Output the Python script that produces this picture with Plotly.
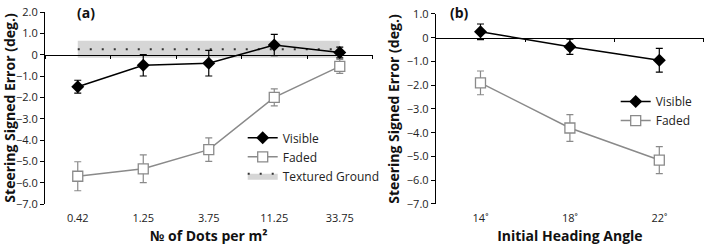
import plotly.graph_objects as go

# ---- Panel (a) data ----
cats_a = ["0.42", "1.25", "3.75", "11.25", "33.75"]
visible_a = [-1.5, -0.5, -0.4, 0.45, 0.1]
visible_a_err = [0.3, 0.5, 0.6, 0.5, 0.25]
faded_a = [-5.7, -5.35, -4.45, -2.0, -0.55]
faded_a_err = [0.68, 0.65, 0.55, 0.4, 0.33]
textured_mean = 0.25
textured_se = 0.4

# ---- Panel (b) data ----
cats_b = ["14˚", "18˚", "22˚"]
visible_b = [0.25, -0.38, -0.95]
visible_b_err = [0.33, 0.32, 0.5]
faded_b = [-1.9, -3.8, -5.15]
faded_b_err = [0.5, 0.56, 0.57]

ytick_a = [2, 1, 0, -1, -2, -3, -4, -5, -6, -7]
ytick_b = [1, 0, -1, -2, -3, -4, -5, -6, -7]


def fmt(v):
    return "0" if v == 0 else ("%.1f" % v).replace("-", "\u2212")


FONT = "Open Sans"
BLACK = "#000000"
GRAY = "#8a8a8a"
BAND = "#d6d6d6"

fig = go.Figure()

# Textured ground band (a)
band_x = [cats_a[0], cats_a[-1]]
fig.add_trace(go.Scatter(x=band_x, y=[textured_mean - textured_se] * 2, mode="lines",
                         line=dict(width=0, color=BAND), showlegend=False, hoverinfo="skip",
                         xaxis="x", yaxis="y"))
fig.add_trace(go.Scatter(x=band_x, y=[textured_mean + textured_se] * 2, mode="lines", fill="tonexty",
                         fillcolor=BAND, line=dict(width=0, color=BAND), showlegend=False,
                         hoverinfo="skip", xaxis="x", yaxis="y"))
fig.add_trace(go.Scatter(x=band_x, y=[textured_mean] * 2, mode="lines", fill="toself",
                         fillcolor=BAND, line=dict(width=2, color="#333333", dash="2px,10px"),
                         name="Textured Ground", legend="legend", legendrank=3,
                         xaxis="x", yaxis="y"))

# dummy trace for zero-line axis (a)
fig.add_trace(go.Scatter(x=cats_a, y=visible_a, mode="markers", opacity=0, showlegend=False,
                         hoverinfo="skip", xaxis="x3", yaxis="y"))
# dummy trace for zero-line axis (b)
fig.add_trace(go.Scatter(x=cats_b, y=visible_b, mode="markers", opacity=0, showlegend=False,
                         hoverinfo="skip", xaxis="x4", yaxis="y2"))

# Panel (a) series
fig.add_trace(go.Scatter(x=cats_a, y=faded_a, mode="lines+markers", name="Faded",
                         line=dict(color=GRAY, width=1.5),
                         marker=dict(symbol="square", size=10, color="white", line=dict(color=GRAY, width=1.3)),
                         error_y=dict(type="data", array=faded_a_err, color=GRAY, thickness=1.2, width=3.5),
                         legend="legend", legendrank=2, xaxis="x", yaxis="y"))
fig.add_trace(go.Scatter(x=cats_a, y=visible_a, mode="lines+markers", name="Visible",
                         line=dict(color=BLACK, width=1.5),
                         marker=dict(symbol="diamond", size=10, color=BLACK),
                         error_y=dict(type="data", array=visible_a_err, color=BLACK, thickness=1.2, width=3.5),
                         legend="legend", legendrank=1, xaxis="x", yaxis="y"))

# Panel (b) series
fig.add_trace(go.Scatter(x=cats_b, y=faded_b, mode="lines+markers", name="Faded",
                         line=dict(color=GRAY, width=1.5),
                         marker=dict(symbol="square", size=10, color="white", line=dict(color=GRAY, width=1.3)),
                         error_y=dict(type="data", array=faded_b_err, color=GRAY, thickness=1.2, width=3.5),
                         legend="legend2", legendrank=2, xaxis="x2", yaxis="y2"))
fig.add_trace(go.Scatter(x=cats_b, y=visible_b, mode="lines+markers", name="Visible",
                         line=dict(color=BLACK, width=1.5),
                         marker=dict(symbol="diamond", size=10, color=BLACK),
                         error_y=dict(type="data", array=visible_b_err, color=BLACK, thickness=1.2, width=3.5),
                         legend="legend2", legendrank=1, xaxis="x2", yaxis="y2"))

ya_range = [-7, 2]
yb_range = [-7, 1]
yb_top = 0.9896

tickfont = dict(family=FONT, size=11, color="#222222")
titlefont = dict(family=FONT, size=14, color="#111111", weight="bold")

fig.update_layout(
    width=707, height=248,
    margin=dict(l=45, r=3, t=12, b=44),
    paper_bgcolor="white", plot_bgcolor="white",
    font=dict(family=FONT, color="#111111"),
    xaxis=dict(domain=[0, 0.497], type="category", categoryarray=cats_a, range=[-0.5, 4.5],
               showline=False, showgrid=False, zeroline=False, ticks="", tickfont=tickfont,
               ticklabelstandoff=6,
               title=dict(text="№ of Dots per m²", font=titlefont, standoff=7)),
    xaxis3=dict(type="category", categoryarray=cats_a, range=[-0.5, 4.5], overlaying="x",
                anchor="free", position=(0 - ya_range[0]) / (ya_range[1] - ya_range[0]),
                showline=True, linecolor=BLACK, linewidth=1, ticks="outside", ticklen=3,
                tickcolor=BLACK, tickson="boundaries", showticklabels=False, showgrid=False,
                zeroline=False),
    yaxis=dict(domain=[0, 1], range=ya_range, tickvals=ytick_a, ticktext=[fmt(v) for v in ytick_a],
               showline=True, linecolor=BLACK, linewidth=1, ticks="outside", ticklen=4,
               tickcolor=BLACK, showgrid=False, zeroline=False, tickfont=tickfont,
               title=dict(text="Steering Signed Error (deg.)", font=titlefont, standoff=3)),
    xaxis2=dict(domain=[0.593, 1.0], type="category", categoryarray=cats_b, range=[-0.5, 2.5],
                anchor="y2", showline=False, showgrid=False, zeroline=False, ticks="",
                tickfont=tickfont, ticklabelstandoff=6,
                title=dict(text="Initial Heading Angle", font=titlefont, standoff=7)),
    xaxis4=dict(type="category", categoryarray=cats_b, range=[-0.5, 2.5], overlaying="x2",
                anchor="free", position=(0 - yb_range[0]) / (yb_range[1] - yb_range[0]) * yb_top,
                showline=True, linecolor=BLACK, linewidth=1, ticks="outside", ticklen=3,
                tickcolor=BLACK, tickson="boundaries", showticklabels=False, showgrid=False,
                zeroline=False),
    yaxis2=dict(domain=[0, yb_top], range=yb_range, anchor="x2", tickvals=ytick_b,
                ticktext=[fmt(v) for v in ytick_b],
                showline=True, linecolor=BLACK, linewidth=1, ticks="outside", ticklen=4,
                tickcolor=BLACK, showgrid=False, zeroline=False, tickfont=tickfont,
                title=dict(text="Steering Signed Error (deg.)", font=titlefont, standoff=3)),
    legend=dict(x=0.300, y=0.42, xanchor="left", yanchor="top", bgcolor="rgba(0,0,0,0)",
                font=dict(family=FONT, size=12, color="#222222"), tracegroupgap=0,
                itemwidth=30, traceorder="normal"),
    legend2=dict(x=0.866, y=0.609, xanchor="left", yanchor="top", bgcolor="rgba(0,0,0,0)",
                 font=dict(family=FONT, size=12, color="#222222"), tracegroupgap=0,
                 itemwidth=30, traceorder="normal"),
    annotations=[
        dict(text="(a)", x=0.045, y=1.0, xref="paper", yref="paper", xanchor="left",
             yanchor="bottom", yshift=-12, showarrow=False, font=titlefont),
        dict(text="(b)", x=0.612, y=1.0, xref="paper", yref="paper", xanchor="left",
             yanchor="bottom", yshift=-12, showarrow=False, font=titlefont),
    ],
    showlegend=True,
)

fig.write_html("out.html")
